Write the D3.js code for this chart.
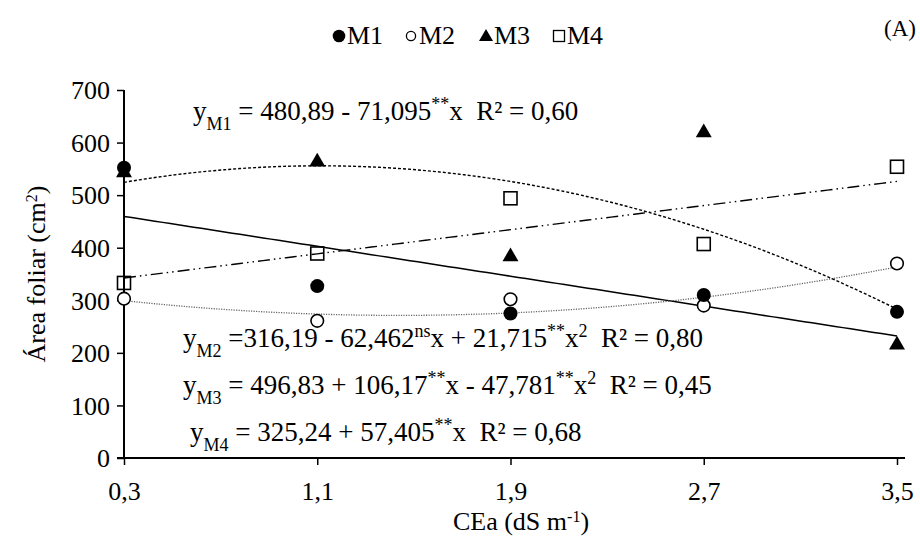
<!DOCTYPE html>
<html><head><meta charset="utf-8">
<script src="https://cdn.jsdelivr.net/npm/d3@7"></script>
<style>body{margin:0;background:#fff}svg{display:block}svg text{font-family:"Times New Roman","Liberation Serif",Tinos,serif !important;fill:#000}</style>
</head><body><svg id="c" width="920" height="539"></svg>
<script>
const xValues = [0.3, 1.1, 1.9, 2.7, 3.5];
const xTickLabels = ["0,3", "1,1", "1,9", "2,7", "3,5"];
const yTicks = [0, 100, 200, 300, 400, 500, 600, 700];
const seriesNames = ["M1", "M2", "M3", "M4"];
const m1 = [552, 327, 275, 310, 278];
const m2 = [303, 261, 302, 290, 370];
const m3 = [543, 563, 383, 619, 215];
const m4 = [333, 389, 494, 407, 554];
// regression coefficients (a + b x + c x^2) as printed in the chart
const m1Coef = [480.89, -71.095, 0];
const m2Coef = [316.19, -62.462, 21.715];
const m3Coef = [496.83, 106.17, -47.781];
const m4Coef = [325.24, 57.405, 0];

const FONT = '"Times New Roman","Liberation Serif",Tinos,serif';
const FS = "26px";
const svg = d3.select("#c");
const x = d3.scaleLinear().domain([0.3, 3.5]).range([124, 897]);
const y = d3.scaleLinear().domain([0, 700]).range([458, 90]);

// axes
const yAxis = d3.axisLeft(y).tickValues(yTicks).tickSize(7).tickFormat(d => d);
const gy = svg.append("g").attr("transform", "translate(124,0)").call(yAxis).attr("font-family", FONT);
gy.select(".domain").attr("d", "M0,90V458").attr("stroke", "#000").attr("stroke-width", 2);
gy.selectAll(".tick line").attr("stroke", "#000").attr("stroke-width", 1.5);
gy.selectAll(".tick text").attr("x", -14).attr("dy", "0.34em").style("font-size", FS);

const xAxis = d3.axisBottom(x).tickValues(xValues).tickSize(7).tickFormat((d, i) => xTickLabels[i]);
const gx = svg.append("g").attr("transform", "translate(0,458)").call(xAxis).attr("font-family", FONT);
gx.select(".domain").attr("d", "M117,0H905").attr("stroke", "#000").attr("stroke-width", 2);
gx.selectAll(".tick line").attr("stroke", "#000").attr("stroke-width", 1.5);
gx.selectAll(".tick text").attr("y", 42).attr("dy", 0).style("font-size", FS);

// axis titles
const yt = svg.append("text").attr("transform", "translate(45,274) rotate(-90)")
  .attr("text-anchor", "middle").style("font-size", FS);
yt.append("tspan").text("Área foliar (cm");
yt.append("tspan").text("2").style("font-size", "16px").attr("baseline-shift", "super");
yt.append("tspan").text(")");
const xt = svg.append("text").attr("x", 521).attr("y", 530).attr("text-anchor", "middle").style("font-size", FS);
xt.append("tspan").text("CEa (dS m");
xt.append("tspan").text("-1").style("font-size", "16px").attr("baseline-shift", "super");
xt.append("tspan").text(")");

// trend lines
function curve(c) {
  const pts = d3.range(0, 101).map(i => { const v = 0.3 + (3.5 - 0.3) * i / 100; return [v, c[0] + c[1] * v + c[2] * v * v]; });
  return d3.line().x(d => x(d[0])).y(d => y(d[1]))(pts);
}
svg.append("path").attr("d", curve(m1Coef)).attr("fill", "none").attr("stroke", "#000").attr("stroke-width", 1.5);
svg.append("path").attr("d", curve(m2Coef)).attr("fill", "none").attr("stroke", "#666").attr("stroke-width", 1.3).attr("stroke-dasharray", "1.2,1.3");
svg.append("path").attr("d", curve(m3Coef)).attr("fill", "none").attr("stroke", "#000").attr("stroke-width", 1.4).attr("stroke-dasharray", "3,2");
svg.append("path").attr("d", curve(m4Coef)).attr("fill", "none").attr("stroke", "#000").attr("stroke-width", 1.4).attr("stroke-dasharray", "12,4,1.5,4,1.5,4");

// markers
const triangle = d3.symbol().type(d3.symbolTriangle).size(110);
function drawSeries(vals, kind) {
  const g = svg.append("g");
  vals.forEach((v, i) => {
    const cx = x(xValues[i]), cy = y(v);
    if (kind === "fc") g.append("circle").attr("cx", cx).attr("cy", cy).attr("r", 7).attr("fill", "#000");
    if (kind === "oc") g.append("circle").attr("cx", cx).attr("cy", cy).attr("r", 6.3).attr("fill", "#fff").attr("stroke", "#000").attr("stroke-width", 1.6);
    if (kind === "tr") g.append("path").attr("d", triangle()).attr("transform", `translate(${cx},${cy})`).attr("fill", "#000");
    if (kind === "sq") g.append("rect").attr("x", cx - 6.5).attr("y", cy - 6.5).attr("width", 13).attr("height", 13).attr("fill", "none").attr("stroke", "#000").attr("stroke-width", 1.6);
  });
}
drawSeries(m4, "sq");
drawSeries(m3, "tr");
drawSeries(m2, "oc");
drawSeries(m1, "fc");

// legend
const kinds = ["fc", "oc", "tr", "sq"];
const legX = [339, 411, 486, 559];
seriesNames.forEach((n, i) => {
  const cx = legX[i], cy = 36;
  const k = kinds[i];
  if (k === "fc") svg.append("circle").attr("cx", cx).attr("cy", cy).attr("r", 6.3).attr("fill", "#000");
  if (k === "oc") svg.append("circle").attr("cx", cx).attr("cy", cy).attr("r", 4.6).attr("fill", "#fff").attr("stroke", "#000").attr("stroke-width", 1.3);
  if (k === "tr") svg.append("path").attr("d", d3.symbol().type(d3.symbolTriangle).size(85)()).attr("transform", `translate(${cx},${cy + 1})`).attr("fill", "#000");
  if (k === "sq") svg.append("rect").attr("x", cx - 5.5).attr("y", cy - 5.5).attr("width", 11).attr("height", 11).attr("fill", "none").attr("stroke", "#000").attr("stroke-width", 1.3);
  svg.append("text").attr("x", cx + 8).attr("y", 44).style("font-size", FS).text(n);
});
svg.append("text").attr("x", 916).attr("y", 36).attr("text-anchor", "end").style("font-size", "23px").text("(A)");

// equations
function eq(xp, yp, parts) {
  const t = svg.append("text").attr("x", xp).attr("y", yp).style("font-size", "27px").style("white-space", "pre");
  parts.forEach(p => {
    const s = t.append("tspan").text(p[0]);
    if (p[1] === "sub") s.style("font-size", "18px").attr("baseline-shift", "sub");
    if (p[1] === "sup") s.style("font-size", "18px").attr("baseline-shift", "super");
  });
}
eq(193, 120, [["y"], ["M1", "sub"], [" = 480,89 - 71,095"], ["**", "sup"], ["x  R² = 0,60"]]);
eq(183, 347, [["y"], ["M2", "sub"], [" =316,19 - 62,462"], ["ns", "sup"], ["x + 21,715"], ["**", "sup"], ["x"], ["2", "sup"], ["  R² = 0,80"]]);
eq(183, 394, [["y"], ["M3", "sub"], [" = 496,83 + 106,17"], ["**", "sup"], ["x - 47,781"], ["**", "sup"], ["x"], ["2", "sup"], ["  R² = 0,45"]]);
eq(190, 441, [["y"], ["M4", "sub"], [" = 325,24 + 57,405"], ["**", "sup"], ["x  R² = 0,68"]]);
</script></body></html>
